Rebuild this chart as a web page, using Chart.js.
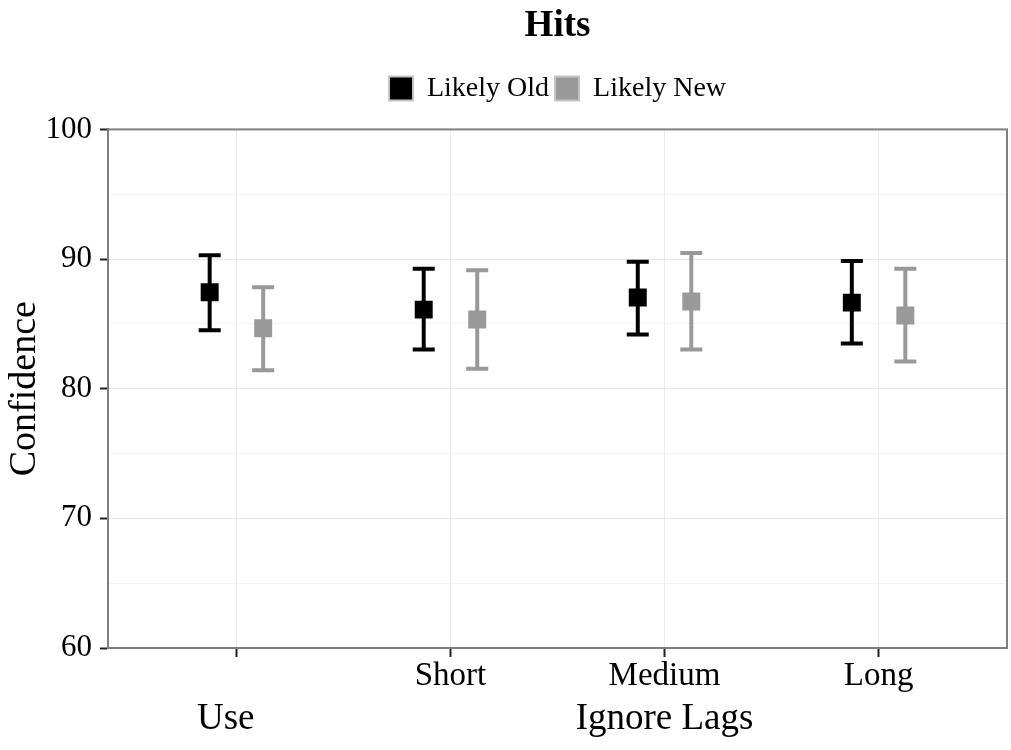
<!DOCTYPE html>
<html>
<head>
<meta charset="utf-8">
<title>Hits</title>
<script src="https://cdn.jsdelivr.net/npm/chart.js@4"></script>
<style>
  html, body { margin: 0; padding: 0; background: #fff; overflow: hidden; }
  canvas { display: block; }
</style>
</head>
<body>
<canvas id="hitsChart" width="1011" height="750"></canvas>
<script>
// lag conditions on the x ticks
var lagLabels = ['', 'Short', 'Medium', 'Long'];
// group names under the ticks, and where they sit on the x scale
var groupLabels = ['Use', 'Ignore Lags'];
var groupPos = [0.95, 3];

// mean confidence with lower / upper error limits
var oldMean = [87.44, 86.10, 87.03, 86.64];
var oldLow  = [84.51, 83.02, 84.18, 83.48];
var oldHigh = [90.29, 89.26, 89.80, 89.85];

var newMean = [84.66, 85.33, 86.72, 85.64];
var newLow  = [81.43, 81.53, 83.02, 82.10];
var newHigh = [87.82, 89.13, 90.47, 89.26];

var yTicks = [60, 70, 80, 90, 100];

var dodge = 0.125;
var serif = "'Liberation Serif', 'Times New Roman', serif";

// points for the mean markers
function means(vals, shift) {
  return vals.map(function (v, i) { return { x: i + 1 + shift, y: v }; });
}

// vertical error segments, broken with a null between categories
function bars(lo, hi, shift) {
  var pts = [];
  for (var i = 0; i < lo.length; i++) {
    pts.push({ x: i + 1 + shift, y: lo[i] });
    pts.push({ x: i + 1 + shift, y: hi[i] });
    pts.push({ x: i + 1 + shift, y: null });
  }
  return pts;
}

// grey frame round the panel
var panelBorder = {
  id: 'panelBorder',
  afterDatasetsDraw: function (chart) {
    var a = chart.chartArea, c = chart.ctx;
    c.save();
    c.strokeStyle = '#7f7f7f';
    c.lineWidth = 2;
    c.strokeRect(a.left, a.top, a.right - a.left, a.bottom - a.top);
    c.restore();
  }
};

// second row of x labels (groups)
var groupRow = {
  id: 'groupRow',
  afterDraw: function (chart) {
    var xs = chart.scales.x, c = chart.ctx;
    c.save();
    c.fillStyle = '#000';
    c.font = '37px ' + serif;
    c.textAlign = 'center';
    c.textBaseline = 'middle';
    for (var i = 0; i < groupLabels.length; i++) {
      c.fillText(groupLabels[i], xs.getPixelForValue(groupPos[i]), xs.top + 71);
    }
    c.restore();
  }
};

// a bit more room under the legend
var legendGap = {
  id: 'legendGap',
  beforeInit: function (chart) {
    var lg = chart.legend;
    if (!lg) return;
    var fit = lg.fit;
    lg.fit = function () {
      fit.call(this);
      this.height += 17;
    };
  }
};

var ctx = document.getElementById('hitsChart');

new Chart(ctx, {
  type: 'scatter',
  data: {
    datasets: [
      {
        label: 'Likely Old',
        data: means(oldMean, -dodge),
        pointStyle: 'rect',
        pointRadius: 12.7,
        pointHoverRadius: 12.7,
        backgroundColor: '#000000',
        borderWidth: 0,
        order: 0
      },
      {
        label: 'Likely New',
        data: means(newMean, dodge),
        pointStyle: 'rect',
        pointRadius: 12.7,
        pointHoverRadius: 12.7,
        backgroundColor: '#999999',
        borderWidth: 0,
        order: 0
      },
      {
        label: 'old-err',
        data: bars(oldLow, oldHigh, -dodge),
        showLine: true,
        spanGaps: false,
        borderColor: '#000000',
        borderWidth: 4,
        pointStyle: 'line',
        pointRadius: 11,
        pointHoverRadius: 11,
        pointBorderWidth: 4,
        pointBorderColor: '#000000',
        order: 1
      },
      {
        label: 'new-err',
        data: bars(newLow, newHigh, dodge),
        showLine: true,
        spanGaps: false,
        borderColor: '#999999',
        borderWidth: 4,
        pointStyle: 'line',
        pointRadius: 11,
        pointHoverRadius: 11,
        pointBorderWidth: 4,
        pointBorderColor: '#999999',
        order: 1
      }
    ]
  },
  options: {
    responsive: false,
    animation: false,
    layout: { autoPadding: false, padding: { left: 0, right: 4, top: 0, bottom: 0 } },
    plugins: {
      tooltip: { enabled: false },
      title: {
        display: true,
        text: 'Hits',
        fullSize: false,
        color: '#000',
        font: { family: serif, size: 37, weight: 'bold' },
        padding: { top: 4, bottom: 20 }
      },
      legend: {
        display: true,
        fullSize: false,
        labels: {
          color: '#000',
          font: { family: serif, size: 28 },
          boxWidth: 24,
          boxHeight: 24,
          padding: 6,
          filter: function (item) { return item.datasetIndex < 2; },
          generateLabels: function (chart) {
            return chart.data.datasets.map(function (ds, i) {
              return {
                text: ds.label,
                fillStyle: ds.backgroundColor,
                strokeStyle: '#c4c4c4',
                lineWidth: 2,
                datasetIndex: i,
                hidden: false
              };
            });
          }
        }
      }
    },
    scales: {
      x: {
        type: 'linear',
        min: 0.4,
        max: 4.6,
        afterBuildTicks: function (scale) {
          scale.ticks = [1, 2, 3, 4].map(function (v) { return { value: v }; });
        },
        afterFit: function (scale) {
          scale.height = 102;
          scale.paddingLeft = 0;
          scale.paddingRight = 0;
        },
        ticks: {
          autoSkip: false,
          maxRotation: 0,
          padding: 0,
          color: '#000',
          font: { family: serif, size: 33 },
          callback: function (value) { return lagLabels[value - 1]; }
        },
        grid: {
          color: '#ebebeb',
          lineWidth: 1,
          tickLength: 9,
          tickColor: '#222',
          tickWidth: 2
        },
        border: { display: true, color: '#7f7f7f', width: 2 }
      },
      y: {
        type: 'linear',
        min: 60,
        max: 100,
        afterBuildTicks: function (scale) {
          var t = [];
          for (var v = 60; v <= 100; v += 5) t.push({ value: v });
          scale.ticks = t;
        },
        afterFit: function (scale) { scale.width = 108; },
        title: {
          display: true,
          text: 'Confidence',
          color: '#000',
          font: { family: serif, size: 38 },
          padding: { top: 2, bottom: 0 }
        },
        ticks: {
          padding: 8,
          color: '#000',
          font: { family: serif, size: 31 },
          callback: function (value) {
            return yTicks.indexOf(value) >= 0 ? String(value) : '';
          }
        },
        grid: {
          color: function (c) {
            return c.tick && c.tick.value % 10 === 0 ? '#e6e6e6' : '#f3f3f3';
          },
          lineWidth: 1,
          tickLength: 8,
          tickWidth: 2,
          tickColor: function (c) {
            return c.tick && c.tick.value % 10 === 0 ? '#222' : 'rgba(0,0,0,0)';
          }
        },
        border: { display: true, color: '#7f7f7f', width: 2 }
      }
    }
  },
  plugins: [panelBorder, groupRow, legendGap]
});
</script>
</body>
</html>
